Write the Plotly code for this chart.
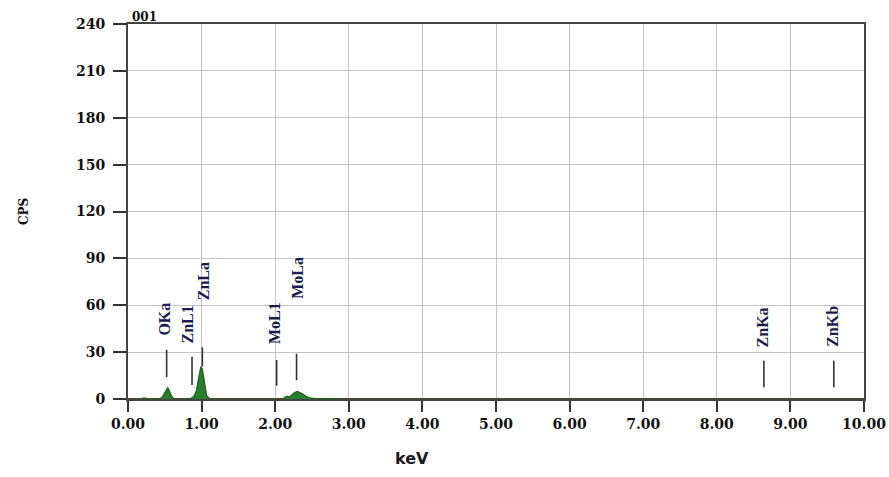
import plotly.graph_objects as go

# EDS spectrum, sample 001
energy_kev = [0.00, 0.18, 0.20, 0.24, 0.27, 0.30, 0.40, 0.44, 0.47, 0.50, 0.52, 0.54,
              0.56, 0.58, 0.61, 0.64, 0.80, 0.86, 0.90, 0.93, 0.95, 0.97, 0.99, 1.01,
              1.03, 1.05, 1.07, 1.10, 1.14, 1.60, 2.10, 2.13, 2.16, 2.19, 2.22, 2.26,
              2.30, 2.33, 2.37, 2.42, 2.47, 2.52, 2.62, 2.80, 3.00, 10.00]
counts_cps = [0.0, 0.0, 0.6, 0.6, 0.0, 0.3, 0.0, 0.4, 1.5, 4.0, 6.5, 7.4,
              5.5, 3.0, 0.8, 0.0, 0.0, 0.5, 2.0, 5.5, 11.0, 16.0, 20.8, 19.0,
              12.5, 6.0, 2.0, 0.6, 0.0, 0.0, 0.0, 1.0, 1.8, 1.2, 2.6, 4.0,
              4.8, 4.4, 3.4, 1.8, 0.8, 0.4, 0.3, 0.3, 0.0, 0.0]

# Element line markers: energy, marker bar span (CPS), label position
line_names = ["OKa", "ZnL1", "ZnLa", "MoL1", "MoLa", "ZnKa", "ZnKb"]
line_kev = [0.525, 0.87, 1.01, 2.02, 2.29, 8.64, 9.59]
bar_low = [14, 9, 20.8, 8.5, 12, 7.5, 7.5]
bar_high = [31.5, 27, 33, 25, 29, 24.5, 24.5]
label_kev = [0.50, 0.81, 1.02, 2.00, 2.30, 8.62, 9.57]
label_cps = [39.5, 34, 62, 34, 63, 32, 32]

x_ticks = [0, 1, 2, 3, 4, 5, 6, 7, 8, 9, 10]
x_labels = ["0.00", "1.00", "2.00", "3.00", "4.00", "5.00", "6.00", "7.00", "8.00", "9.00", "10.00"]
y_ticks = [0, 30, 60, 90, 120, 150, 180, 210, 240]


def bold(s):
    return "<b>" + s + "</b>"


tick_font = dict(family="DejaVu Serif", size=14, color="#111111")
label_font = dict(family="Liberation Serif", size=16, color="#1c1c4e")

fig = go.Figure()

# spectrum baseline
fig.add_trace(go.Scatter(
    x=[energy_kev[0], energy_kev[-1]], y=[0, 0], mode="lines",
    line=dict(color="#7a3b33", width=2), hoverinfo="skip", cliponaxis=False))

# filled spectrum
fig.add_trace(go.Scatter(
    x=energy_kev, y=counts_cps, mode="lines", fill="tozeroy",
    fillcolor="#2a7d2a", line=dict(color="#1d5e1d", width=1.2), cliponaxis=False))

# marker bars
for k, lo, hi in zip(line_kev, bar_low, bar_high):
    fig.add_trace(go.Scatter(
        x=[k, k], y=[lo, hi], mode="lines",
        line=dict(color="#333333", width=1.6), hoverinfo="skip"))

for name, xk, yk in zip(line_names, label_kev, label_cps):
    fig.add_annotation(x=xk, y=yk, text=bold(name), textangle=-90, showarrow=False,
                       xanchor="center", yanchor="bottom", font=label_font)

fig.add_annotation(xref="paper", yref="paper", x=0.0, y=1.0, text=bold("001"),
                   showarrow=False, xanchor="left", yanchor="bottom",
                   xshift=2, yshift=-2,
                   font=dict(family="DejaVu Serif", size=12, color="#111111"))
fig.add_annotation(xref="paper", yref="paper", x=(412 - 128) / 736, y=0, yshift=-59,
                   text=bold("keV"), showarrow=False, xanchor="center", yanchor="middle",
                   font=dict(family="DejaVu Sans", size=16, color="#1a1a1a"))
fig.add_annotation(xref="paper", yref="paper", x=0, xshift=-104, y=(399 - 212) / 375,
                   text=bold("CPS"), textangle=-90, showarrow=False, xanchor="center",
                   yanchor="middle",
                   font=dict(family="DejaVu Serif", size=12, color="#111111"))

fig.update_xaxes(range=[0, 10], tickvals=x_ticks, ticktext=[bold(t) for t in x_labels],
                 tickfont=tick_font, automargin=False,
                 showgrid=True, gridcolor="#c4c4c4", gridwidth=1,
                 showline=True, linecolor="#444444", linewidth=2, mirror=True,
                 ticks="outside", ticklen=11, tickwidth=2, tickcolor="#333333",
                 zeroline=False)
fig.update_yaxes(range=[0, 240], tickvals=y_ticks, ticktext=[bold(str(v)) for v in y_ticks],
                 tickfont=tick_font, automargin=False,
                 showgrid=True, gridcolor="#c4c4c4", gridwidth=1,
                 showline=True, linecolor="#444444", linewidth=2, mirror=True,
                 ticks="outside", ticklen=13, tickwidth=2, tickcolor="#333333",
                 ticklabelstandoff=5, zeroline=False)

fig.update_layout(width=889, height=477, showlegend=False,
                  margin=dict(l=128, r=25, t=24, b=78, autoexpand=False),
                  paper_bgcolor="white", plot_bgcolor="white")

fig.write_html("out.html")
